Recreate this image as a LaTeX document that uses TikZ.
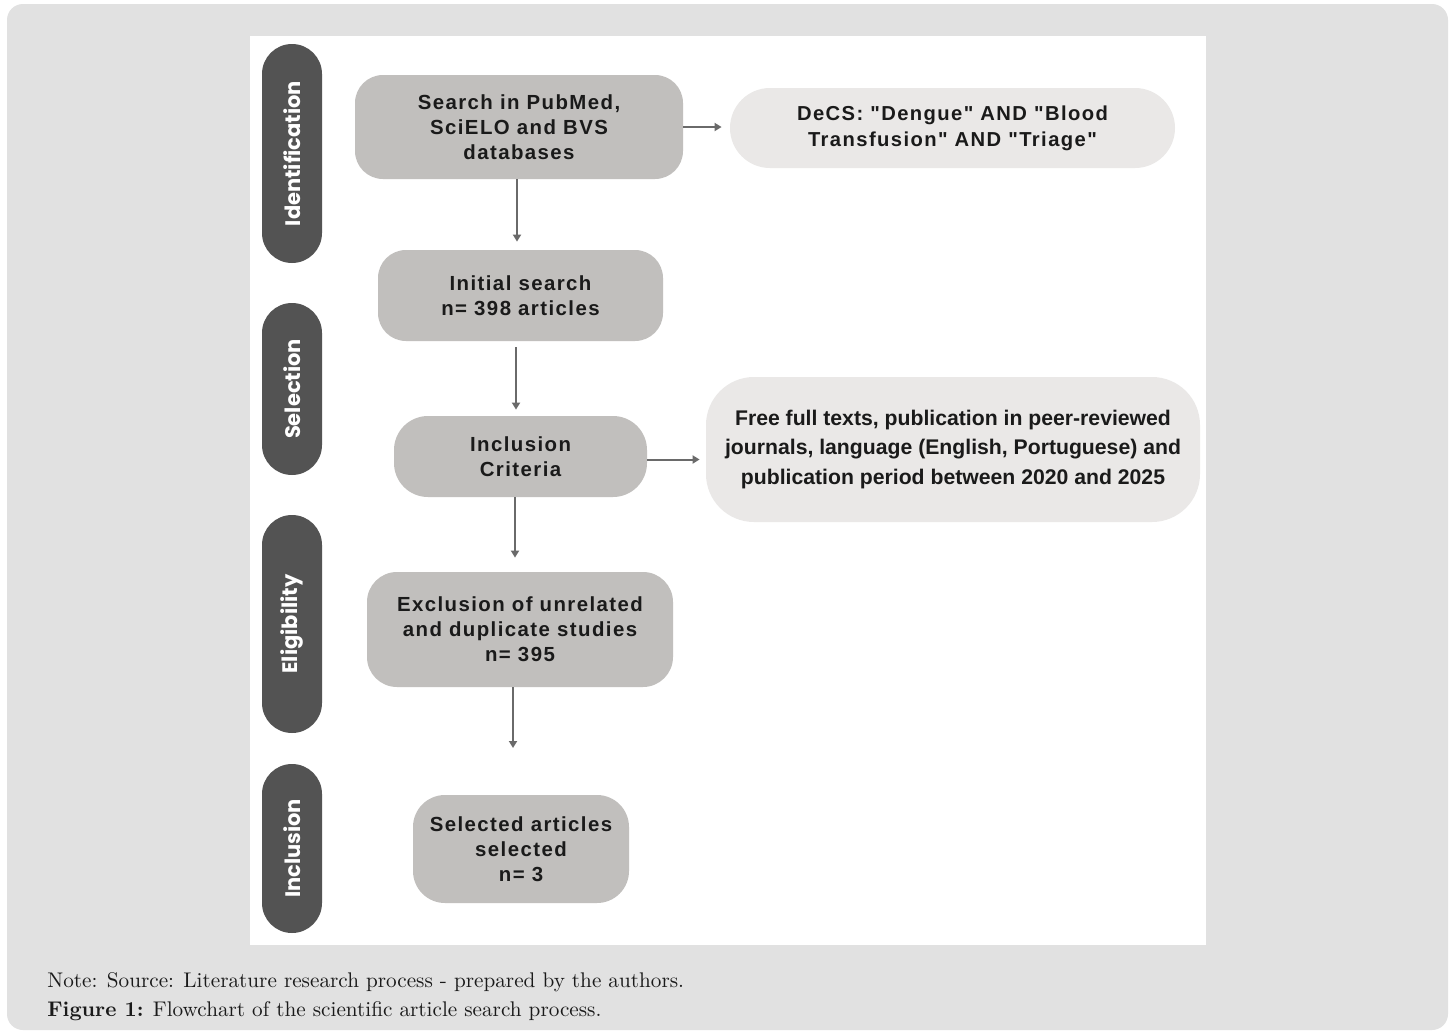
\documentclass[tikz,border=0pt]{standalone}
\usepackage{fontspec}
\usetikzlibrary{arrows.meta,calc}
\newfontfamily\boxfont[LetterSpace=7]{Liberation Sans}
\newfontfamily\plainsans{Liberation Sans}
\newfontfamily\lanefont{Poppins}
\definecolor{outerbg}{HTML}{E1E1E1}
\definecolor{lanecol}{HTML}{535353}
\definecolor{boxgrey}{HTML}{C1BFBD}
\definecolor{boxlight}{HTML}{EAE8E7}
\definecolor{arrcol}{HTML}{6A6A6A}
\definecolor{txt}{HTML}{1A1A1A}
\tikzset{
  lane/.style={fill=lanecol, rounded corners=15pt, minimum height=30pt, inner sep=0pt,
    rotate=90, text=white, font=\lanefont\bfseries\fontsize{10.5}{12}\selectfont},
  greybox/.style={fill=boxgrey, inner sep=0pt, align=center, text=txt,
    font=\boxfont\bfseries\fontsize{10.2}{12.4}\selectfont},
  lightbox/.style={fill=boxlight, inner sep=0pt, align=center, text=txt},
  arr/.style={draw=arrcol, line width=1pt, -{Triangle[length=3.5pt,width=4pt]}}
}
\begin{document}
\begin{tikzpicture}[x=0.5pt,y=-0.5pt]
\useasboundingbox (0,0) rectangle (1453,1034);
\fill[white] (0,0) rectangle (1453,1034);
\fill[outerbg, rounded corners=8pt] (7,4) rectangle (1448,1030);
\fill[white] (250,36) rectangle (1206,945);

% lanes
\node[lane, minimum width=109.5pt] (l1) at (292,153.5) {Identification};
\node[lane, minimum width=86pt] (l2) at (292,389) {Selection};
\node[lane, minimum width=109pt] (l3) at (292,624) {Eligibility};
\node[lane, minimum width=84.5pt] (l4) at (292,848.5) {Inclusion};

% boxes
\node[greybox, minimum width=164pt, minimum height=52pt, rounded corners=14pt] (search) at (519,127)
  {Search in PubMed,\\SciELO and BVS\\databases};
\node[lightbox, minimum width=222.5pt, minimum height=40pt, rounded corners=20pt,
  font=\boxfont\bfseries\fontsize{10.1}{13}\selectfont] (decs) at (952.5,128)
  {DeCS: "Dengue" AND "Blood\\Transfusion" AND "Triage"};
\node[greybox, minimum width=142.5pt, minimum height=45.5pt, rounded corners=14pt] (initial) at (520.5,295.5)
  {Initial search\\n= 398 articles};
\node[greybox, minimum width=126.5pt, minimum height=40.5pt, rounded corners=17pt] (incl) at (520.5,456.5)
  {Inclusion\\Criteria};
\node[lightbox, minimum width=247pt, minimum height=72.5pt, rounded corners=24pt,
  font=\plainsans\bfseries\fontsize{10.6}{14.8}\selectfont] (free) at (953,449.5)
  {Free full texts, publication in peer-reviewed\\journals, language (English, Portuguese) and\\publication period between 2020 and 2025};
\node[greybox, minimum width=153pt, minimum height=57.5pt, rounded corners=15pt] (excl) at (520,629.5)
  {Exclusion of unrelated\\and duplicate studies\\n= 395};
\node[greybox, minimum width=108pt, minimum height=54pt, rounded corners=16pt] (sel) at (521,849)
  {Selected articles\\selected\\n= 3};

% connectors
\coordinate (s1) at ($(search.south)+(-2,0)$);
\coordinate (i1) at ($(initial.south)+(-4.5,0)$);
\coordinate (c1) at ($(incl.south)+(-5.5,0)$);
\coordinate (e1) at ($(excl.south)+(-7,0)$);
\coordinate (exend) at (513,748);
\coordinate (inclr) at ($(incl.east)+(0,3)$);
\draw[arr, shorten >=4pt] (s1) -- (s1 |- initial.north);
\draw[arr, shorten >=4pt] (search.east) -- (search.east -| decs.west);
\draw[arr, shorten <=3pt, shorten >=3pt] (i1) -- (i1 |- incl.north);
\draw[arr, shorten >=3pt] (inclr) -- (inclr -| free.west);
\draw[arr, shorten >=7pt] (c1) -- (c1 |- excl.north);
\draw[arr] (e1) -- (e1 |- exend);

% caption
\node[anchor=base west, inner sep=0pt, font=\fontsize{10.6}{12}\selectfont, text=txt] (note) at (47,987)
  {Note: Source: Literature research process - prepared by the authors.};
\node[anchor=base west, inner sep=0pt, font=\fontsize{10.6}{12}\selectfont, text=txt] (fig) at (47,1016)
  {\textbf{Figure 1:} Flowchart of the scientific article search process.};
\end{tikzpicture}
\end{document}
